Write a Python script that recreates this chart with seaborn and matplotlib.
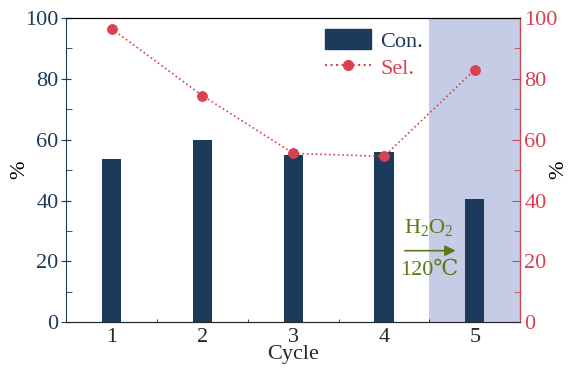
import matplotlib
matplotlib.use("Agg")
import matplotlib.pyplot as plt
from matplotlib.ticker import MultipleLocator
from matplotlib.lines import Line2D
from matplotlib.patches import Patch
import pandas as pd
import seaborn as sns

# %%
cycles = [1, 2, 3, 4, 5]
conversion = [53.5, 60.0, 55.0, 56.0, 40.5]
selectivity = [96.5, 74.5, 55.5, 54.5, 83.0]

navy = "#1b3a5c"
red = "#d9414e"
shade = "#c5cde6"
olive = "#5a7a1a"

df = pd.DataFrame({"Cycle": cycles, "Con.": conversion, "Sel.": selectivity})

sns.set_style("ticks")
plt.rcParams["font.family"] = "Liberation Serif"
plt.rcParams["mathtext.fontset"] = "custom"
plt.rcParams["mathtext.rm"] = "Liberation Serif"
plt.rcParams["mathtext.it"] = "Liberation Serif:italic"
fs = 16

# %%
fig, ax = plt.subplots(figsize=(5.71, 3.69), dpi=100)
fig.subplots_adjust(left=0.116, right=0.911, top=0.951, bottom=0.127)

ax.axvspan(4.5, 5.5, color=shade, lw=0, zorder=0)
sns.barplot(data=df, x="Cycle", y="Con.", native_scale=True, width=0.21,
            color=navy, saturation=1, edgecolor=navy, linewidth=0, ax=ax, zorder=2)
ax.set_xlim(0.5, 5.5)
ax.set_ylim(0, 100)
ax.set_xticks(cycles)
ax.xaxis.set_minor_locator(MultipleLocator(0.5))
ax.yaxis.set_major_locator(MultipleLocator(20))
ax.yaxis.set_minor_locator(MultipleLocator(10))
ax.set_xlabel("Cycle", fontsize=fs, labelpad=-1)
ax.set_ylabel("%", fontsize=fs)
ax.yaxis.set_label_coords(-0.082, 0.5)
ax.tick_params(axis="x", which="both", direction="in", labelsize=fs, pad=4)
ax.tick_params(axis="y", which="major", direction="inout", length=7, colors=navy, labelsize=fs, pad=2)
ax.tick_params(axis="y", which="minor", direction="in", length=4, colors=navy)
ax.yaxis.label.set_color("black")
ax.spines["left"].set_color(navy)
ax.spines["bottom"].set_color("#444444")
ax.spines["top"].set_color("black")

ax2 = ax.twinx()
sns.lineplot(data=df, x="Cycle", y="Sel.", ax=ax2, color=red, linestyle=":",
             marker="o", markersize=7, markeredgecolor=red, lw=1.2)
ax2.set_ylim(0, 100)
ax2.set_xlim(0.5, 5.5)
ax2.yaxis.set_major_locator(MultipleLocator(20))
ax2.yaxis.set_minor_locator(MultipleLocator(10))
ax2.set_ylabel("%", fontsize=fs)
ax2.yaxis.set_label_coords(1.064, 0.5)
ax2.tick_params(axis="y", which="major", direction="in", length=6, colors=red, labelsize=fs, pad=3)
ax2.tick_params(axis="y", which="minor", direction="in", length=4, colors=red)
ax2.yaxis.label.set_color("black")
ax2.spines["right"].set_color(red)
ax2.spines["left"].set_visible(False)
ax2.spines["top"].set_color("black")

# annotation for regeneration
ax.text(4.49, 31, r"$\mathregular{H_2O_2}$", color=olive, fontsize=fs, ha="center", va="center")
ax.annotate("", xy=(4.82, 23.5), xytext=(4.2, 23.5),
            arrowprops=dict(arrowstyle="-|>", color=olive, lw=1.2, mutation_scale=16))
ax.text(4.5, 17, "120℃", color=olive, fontsize=fs, ha="center", va="center",
        family=["Liberation Serif", "DejaVu Serif"])

handles = [Patch(color=navy),
           Line2D([], [], color=red, linestyle=":", marker="o", markersize=7)]
leg = ax2.legend(handles, ["Con.", "Sel."], loc="upper right", bbox_to_anchor=(0.83, 1.03),
                 frameon=False, fontsize=fs, handlelength=2.1, handleheight=1.0,
                 labelspacing=0.2, handletextpad=0.4)
for txt, c in zip(leg.get_texts(), [navy, red]):
    txt.set_color(c)

fig.savefig("out.png", dpi=100)
